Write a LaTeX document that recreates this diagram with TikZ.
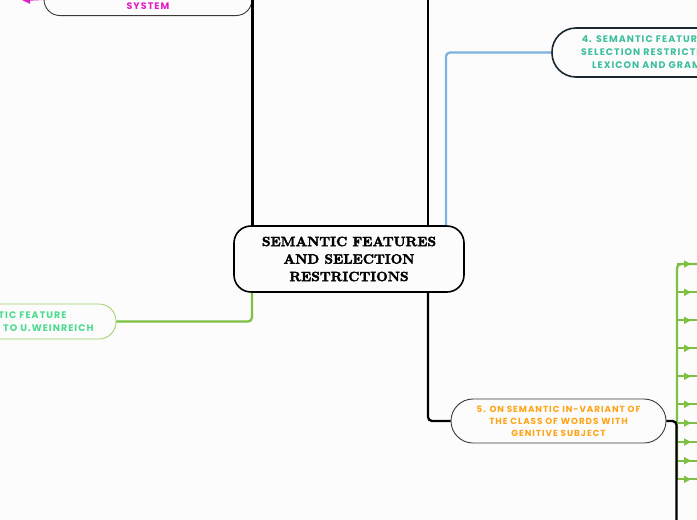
\documentclass[tikz,border=0pt]{standalone}
\usepackage{fontspec}
\setmainfont{Poppins}[LetterSpace=11]
\newfontfamily\titlefont{lmroman10-bold.otf}[FakeBold=2.5]
\usetikzlibrary{arrows.meta}
\definecolor{bgc}{HTML}{FCFCFD}
\definecolor{navy}{HTML}{1B2830}
\definecolor{tealtxt}{HTML}{3DBF9C}
\definecolor{bluec}{HTML}{7EB2DE}
\definecolor{greenc}{HTML}{7DC043}
\definecolor{greenb}{HTML}{9CCF62}
\definecolor{minttxt}{HTML}{4BDB8E}
\definecolor{orangetxt}{HTML}{FFA414}
\definecolor{pinktxt}{HTML}{E21DC6}
\definecolor{grayb}{HTML}{3A3A3A}
\begin{document}
\begin{tikzpicture}[x=1pt,y=-1pt,
  conn/.style={line width=2.3pt, rounded corners=4pt},
  topic/.style={align=center, font=\bfseries\fontsize{9.5}{13}\selectfont},
  arr/.style={greenc, line width=2pt, -{Triangle[length=7pt,width=7pt]}}]
\fill[bgc] (0,0) rectangle (697,520);
\useasboundingbox (0,0) rectangle (697,520);
\clip (0,0) rectangle (697,520);
% nodes
\node[draw, line width=1.6pt, rounded corners=17pt, minimum width=230pt, minimum height=66pt,
  align=center, font=\titlefont\fontsize{13.5}{17.5}\selectfont] (c) at (349,259)
  {SEMANTIC FEATURES\\AND SELECTION\\RESTRICTIONS};
\node[topic, draw=navy, line width=1.6pt, rounded corners=24pt, minimum width=214pt, minimum height=49pt,
  text=tealtxt] (n4) at (659,52.5)
  {4. SEMANTIC FEATURES AND\\SELECTION RESTRICTIONS IN\\LEXICON AND GRAMMAR};
\node[topic, draw=greenb, line width=0.8pt, rounded corners=17pt, minimum width=206pt, minimum height=35pt,
  text=minttxt] (n1) at (13,321.5)
  {SEMANTIC FEATURE\\ACCORDING TO U.WEINREICH};
\node[topic, draw=grayb, line width=0.9pt, rounded corners=16pt, minimum width=208pt, minimum height=0pt,
  inner xsep=4.5pt, inner ysep=2.5pt, text=pinktxt, anchor=south] (sys) at (148,16)
  {\strut\\\strut\\\strut SYSTEM};
\node[topic, draw=grayb, line width=0.9pt, rounded corners=22pt, minimum width=215pt, minimum height=44pt,
  text=orangetxt, font=\bfseries\fontsize{8.8}{12}\selectfont] (n5) at (558.5,421)
  {5. ON SEMANTIC IN-VARIANT OF\\THE CLASS OF WORDS WITH\\GENITIVE SUBJECT};
% off-picture ends
\coordinate (topR) at (428,-30);
\coordinate (pinkEnd) at (22,0);
\coordinate (botR) at (676.5,540);
\coordinate (gTop) at (677,264);
\coordinate (gBot) at (677,480);
% connectors
\draw[conn] (c.north -| sys.east) |- (sys.east);
\draw[conn] (c.north -| topR) -- (topR);
\draw[conn, bluec] (c.north -| 446,0) |- (n4.west);
\draw[conn, greenc] (c.south -| 252,0) |- (n1.east);
\draw[conn] (c.south -| topR) |- (n5.west);
\draw[pinktxt, line width=2pt, -{Triangle[length=8pt,width=8pt]}] (sys.west |- 0,-1) -- (pinkEnd);
% green branch
\draw[conn, greenc] (gBot) -- (gTop) -- (697,264);
\foreach \yy in {264,292.3,320.3,348.3,376.3,404.3,423,442,460.7,479.3}{
  \draw[greenc, line width=2pt] (677,\yy) -- (697,\yy);
  \draw[arr] (677,\yy) -- (691,\yy);
}
\draw[conn] (n5.east) -| (botR);
\end{tikzpicture}
\end{document}
